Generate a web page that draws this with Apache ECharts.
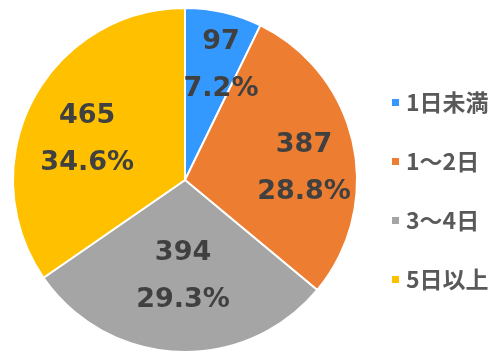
<!DOCTYPE html>
<html><head><meta charset="utf-8">
<script src="https://cdn.jsdelivr.net/npm/echarts@6/dist/echarts.min.js"></script>
<style>html,body{margin:0;padding:0;background:#fff;}#c{width:500px;height:361px;}</style>
</head><body><div id="c"></div>
<script>
const categories = ['1日未満', '1～2日', '3～4日', '5日以上'];
const values = [97, 387, 394, 465];
const colors = ['#3399FF', '#ED7D31', '#A5A5A5', '#FFC000'];
const labelOffsets = [[16, -28], [32, 7], [2, 8], [-19, 1]];

const total = values.reduce((a, b) => a + b, 0);
const chart = echarts.init(document.getElementById('c'));
chart.setOption({
  animation: false,
  color: colors,
  legend: {
    orient: 'vertical',
    left: 385,
    top: 86,
    itemWidth: 9,
    itemHeight: 9,
    itemGap: 36,
    icon: 'rect',
    textStyle: { fontFamily: '"Noto Sans CJK JP"', fontSize: 23, fontWeight: 'bold', color: '#595959', padding: [0, 0, 0, 1] },
    data: categories
  },
  series: [{
    type: 'pie',
    center: [185, 180],
    radius: 172,
    startAngle: 90,
    clockwise: true,
    itemStyle: { borderColor: '#fff', borderWidth: 2 },
    label: {
      show: true,
      position: 'inside',
      formatter: p => p.value + '\n' + (p.value / total * 100).toFixed(1) + '%',
      fontFamily: '"DejaVu Sans"',
      fontWeight: 'bold',
      fontSize: 27,
      lineHeight: 47,
      color: '#404040'
    },
    labelLine: { show: false },
    emphasis: { disabled: true },
    data: categories.map((n, i) => ({ name: n, value: values[i], label: { offset: labelOffsets[i] } }))
  }]
});
</script></body></html>
